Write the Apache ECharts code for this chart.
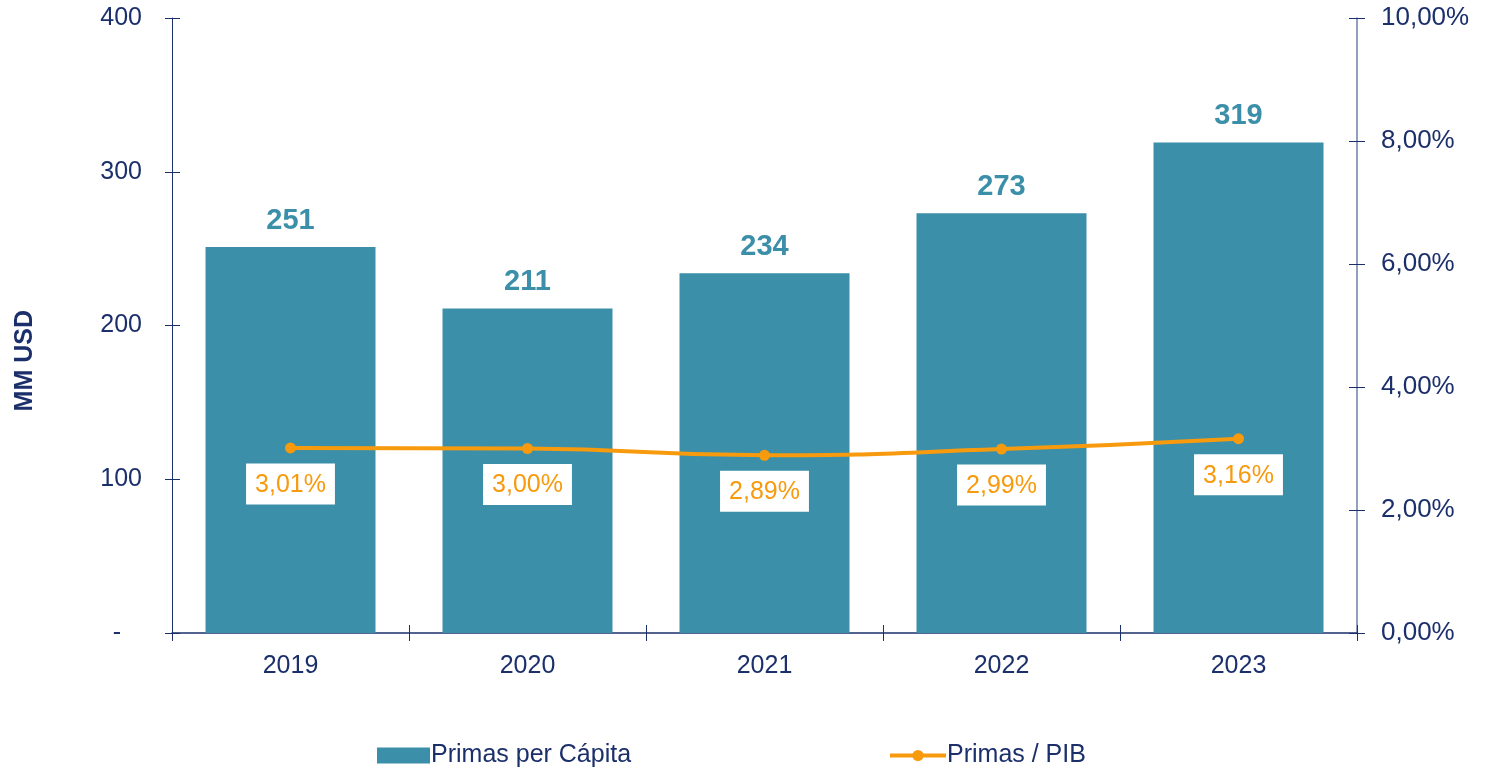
<!DOCTYPE html>
<html>
<head>
<meta charset="utf-8">
<script src="https://cdn.jsdelivr.net/npm/echarts@6/dist/echarts.min.js"></script>
<style>
  html, body { margin: 0; padding: 0; background: #fff; }
  #chart { width: 1485px; height: 772px; }
</style>
</head>
<body>
<div id="chart"></div>
<script>
// data
var years = ['2019', '2020', '2021', '2022', '2023'];
var primasPerCapita = [251, 211, 234, 273, 319];
var primasPib = [3.01, 3.00, 2.89, 2.99, 3.16];
var leftTicks = [0, 100, 200, 300, 400];
var rightTicks = [0, 2, 4, 6, 8, 10];

var navy = '#1B2F6B';
var teal = '#3B8FA8';
var orange = '#F79A0E';
var font = 'Liberation Sans, Arial, sans-serif';

var chart = echarts.init(document.getElementById('chart'));

function pct(v) {
  return v.toFixed(2).replace('.', ',') + '%';
}

var legendText = { color: navy, fontSize: 25, fontFamily: font, padding: [0, 0, 0, -4] };

var option = {
  animation: false,
  textStyle: { fontFamily: font },
  grid: { left: 172, right: 128, top: 18, bottom: 139 },
  legend: [{
    top: 743,
    left: 377,
    padding: 0,
    itemWidth: 53,
    itemHeight: 16,
    textStyle: legendText,
    data: [{ name: 'Primas per Cápita', icon: 'rect' }]
  }, {
    top: 743,
    left: 888,
    padding: 0,
    itemWidth: 56,
    itemHeight: 14,
    textStyle: legendText,
    data: [{ name: 'Primas / PIB', lineStyle: { width: 4 } }]
  }],
  graphic: [{
    type: 'text',
    left: 13,
    top: 310,
    rotation: Math.PI / 2,
    style: {
      text: 'MM USD',
      fill: navy,
      font: 'bold 25px ' + font
    }
  }],
  xAxis: [{
    type: 'category',
    data: years,
    axisLine: { lineStyle: { color: navy, width: 1.5 } },
    axisTick: { show: true, length: 8, lineStyle: { color: navy } },
    axisLabel: { color: navy, fontSize: 25, margin: 21, fontFamily: font }
  }, {
    type: 'category',
    data: years,
    position: 'bottom',
    axisLine: { show: false },
    axisTick: { show: true, inside: true, length: 8, lineStyle: { color: navy } },
    axisLabel: { show: false }
  }],
  yAxis: [{
    type: 'value',
    min: leftTicks[0],
    max: leftTicks[leftTicks.length - 1],
    interval: 100,
    splitLine: { show: false },
    axisLine: { show: true, lineStyle: { color: navy, width: 1 } },
    axisTick: { show: true, length: 7, lineStyle: { color: navy } },
    axisLabel: {
      color: navy, fontSize: 25, margin: 30, fontFamily: font,
      formatter: function (v) { return v === 0 ? '-   ' : String(v); }
    }
  }, {
    type: 'value',
    min: rightTicks[0],
    max: rightTicks[rightTicks.length - 1],
    interval: 2,
    position: 'right',
    splitLine: { show: false },
    axisLine: { show: true, lineStyle: { color: '#6F7FA8', width: 1.5 } },
    axisTick: { show: true, length: 8, lineStyle: { color: navy } },
    axisLabel: { color: navy, fontSize: 26, margin: 24, fontFamily: font, formatter: pct }
  }, {
    type: 'value',
    min: 0, max: 400, interval: 100,
    position: 'left',
    splitLine: { show: false },
    axisLine: { show: false },
    axisTick: { show: true, inside: true, length: 8, lineStyle: { color: navy } },
    axisLabel: { show: false }
  }, {
    type: 'value',
    min: 0, max: 10, interval: 2,
    position: 'right',
    splitLine: { show: false },
    axisLine: { show: false },
    axisTick: { show: true, inside: true, length: 8, lineStyle: { color: navy } },
    axisLabel: { show: false }
  }],
  series: [{
    name: 'Primas per Cápita',
    type: 'bar',
    data: primasPerCapita,
    barWidth: 170,
    itemStyle: { color: teal },
    label: {
      show: true,
      position: 'top',
      distance: 12,
      color: teal,
      fontSize: 29,
      fontWeight: 'bold',
      fontFamily: font
    }
  }, {
    name: 'Primas / PIB',
    type: 'line',
    yAxisIndex: 1,
    data: primasPib,
    smooth: true,
    symbol: 'circle',
    symbolSize: 11,
    lineStyle: { color: orange, width: 4 },
    itemStyle: { color: orange },
    z: 5,
    label: {
      show: true,
      position: 'bottom',
      distance: 10,
      color: orange,
      fontSize: 25,
      fontFamily: font,
      backgroundColor: '#fff',
      padding: [9, 9, 7, 9],
      formatter: function (p) { return pct(p.value); }
    }
  }]
};

chart.setOption(option);
</script>
</body>
</html>
